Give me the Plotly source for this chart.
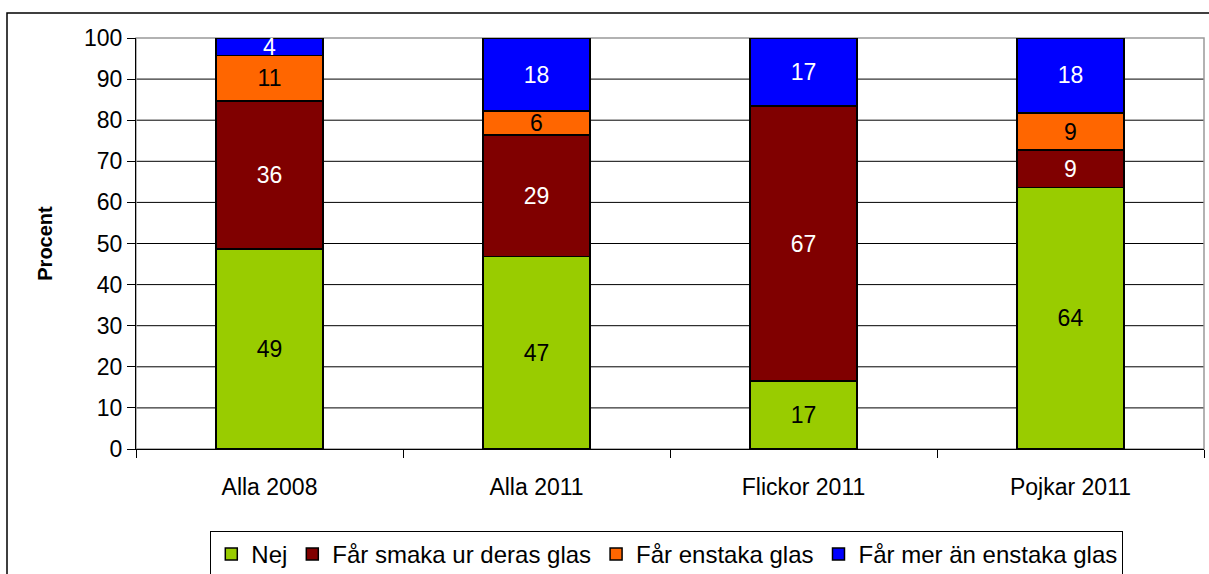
import plotly.graph_objects as go

categories = ["Alla 2008", "Alla 2011", "Flickor 2011", "Pojkar 2011"]
series_names = ["Nej", "Får smaka ur deras glas", "Får enstaka glas", "Får mer än enstaka glas"]
nej = [48.7, 46.8, 16.6, 63.6]
smaka = [36.0, 29.6, 66.8, 9.1]
enstaka = [11.0, 5.8, 0.0, 9.1]
mer = [4.3, 17.8, 16.6, 18.2]
labels_nej = ["49", "47", "17", "64"]
labels_smaka = ["36", "29", "67", "9"]
labels_enstaka = ["11", "6", "", "9"]
labels_mer = ["4", "18", "17", "18"]
y_ticks = [0, 10, 20, 30, 40, 50, 60, 70, 80, 90, 100]

colors = ["#99CC00", "#800000", "#FF6600", "#0000FF"]
text_colors = ["black", "white", "black", "white"]
values = [nej, smaka, enstaka, mer]
labels = [labels_nej, labels_smaka, labels_enstaka, labels_mer]

FONT = "Liberation Sans, Arial, sans-serif"
FS = 23

fig = go.Figure()
for name, vals, lab, c, tc in zip(series_names, values, labels, colors, text_colors):
    fig.add_trace(go.Bar(
        x=categories, y=vals, name=name, text=lab,
        textposition="inside", insidetextanchor="middle", textangle=0,
        textfont=dict(color=tc, size=FS, family=FONT),
        marker=dict(color=c, line=dict(color="black", width=1.5)),
        width=0.4, cliponaxis=False, hoverinfo="skip",
    ))

L, R, T, B = 136, 5, 38, 125
W, H = 1209, 574
pw = W - L - R
ph = H - T - B

def px_x(p):
    return (p - L) / pw

def px_y(p):
    return (H - B - p) / ph

shapes = [
    dict(type="line", xref="paper", yref="y", x0=0, x1=1, y0=v, y1=v,
         line=dict(color="black", width=1), layer="below")
    for v in y_ticks[1:-1]
]
shapes += [
    dict(type="rect", xref="paper", yref="paper", x0=0, x1=1, y0=0, y1=1,
         line=dict(color="#999999", width=1.5), layer="below"),
    dict(type="rect", xref="paper", yref="paper",
         x0=px_x(7), x1=px_x(1230), y0=px_y(13), y1=px_y(600),
         line=dict(color="black", width=1.5), layer="below"),
]

fig.update_layout(
    barmode="stack",
    width=W, height=H,
    margin=dict(l=L, r=R, t=T, b=B, autoexpand=False),
    paper_bgcolor="white", plot_bgcolor="white",
    font=dict(family=FONT, color="black", size=FS),
    uniformtext=dict(minsize=FS, mode="show"),
    showlegend=True,
    hovermode=False,
    legend=dict(
        orientation="h", x=0.497, xanchor="center",
        yref="container", y=(H - 531) / H, yanchor="top",
        bordercolor="black", borderwidth=1, bgcolor="white",
        font=dict(size=24, family=FONT), traceorder="normal",
        itemwidth=30, tracegroupgap=0,
    ),
    xaxis=dict(
        showline=True, linecolor="black", linewidth=1,
        ticks="outside", tickson="boundaries", ticklen=8, tickcolor="black",
        tickfont=dict(size=FS), showgrid=False, fixedrange=True,
        ticklabelstandoff=17, automargin=False,
    ),
    yaxis=dict(
        range=[0, 100], tickvals=y_ticks, showline=True, linecolor="black", linewidth=1,
        ticks="outside", ticklen=8, tickcolor="black", tickfont=dict(size=FS),
        showgrid=False, zeroline=False,
        title=dict(text="<b>Procent</b>", font=dict(size=20), standoff=26),
        fixedrange=True, automargin=False,
    ),
    shapes=shapes,
)

fig.write_html(
    "out.html",
    config={"displayModeBar": False, "staticPlot": True},
    post_script="document.body.style.margin='0px';document.body.style.overflow='hidden';",
)
